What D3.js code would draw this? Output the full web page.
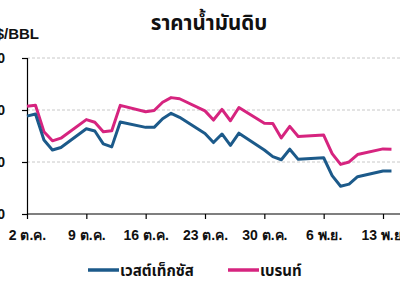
<!DOCTYPE html>
<html><head><meta charset="utf-8">
<script src="https://cdn.jsdelivr.net/npm/d3@7"></script>
<style>
html,body{margin:0;padding:0;background:#fff;}
svg{display:block;font-family:"Noto Sans Thai","Noto Sans","DejaVu Sans",sans-serif;}
</style></head>
<body><svg id="c" width="400" height="288"></svg>
<script>
const dates = ["2023-10-02","2023-10-03","2023-10-04","2023-10-05","2023-10-06",
"2023-10-09","2023-10-10","2023-10-11","2023-10-12","2023-10-13",
"2023-10-16","2023-10-17","2023-10-18","2023-10-19","2023-10-20",
"2023-10-23","2023-10-24","2023-10-25","2023-10-26","2023-10-27",
"2023-10-30","2023-10-31","2023-11-01","2023-11-02","2023-11-03",
"2023-11-06","2023-11-07","2023-11-08","2023-11-09","2023-11-10",
"2023-11-13","2023-11-14"];
const wti = [88.82,89.23,84.22,82.31,82.79,
86.38,85.97,83.49,82.91,87.69,
86.66,86.66,88.32,89.37,88.6,
85.49,83.74,85.39,83.21,85.54,
82.31,81.02,80.44,82.46,80.51,
80.82,77.37,75.33,75.74,77.17,
78.26,78.26];
const brent = [90.71,90.92,85.81,84.07,84.58,
88.15,87.65,85.82,86.00,90.89,
89.65,89.90,91.50,92.38,92.16,
89.83,88.07,90.13,87.93,90.48,
87.45,87.41,84.63,86.85,84.89,
85.18,81.61,79.54,80.01,81.43,
82.52,82.47];
const yTicks = [70,80,90,100];
const xTickDates = ["2023-10-02","2023-10-09","2023-10-16","2023-10-23","2023-10-30","2023-11-06","2023-11-13"];
const xTickLabels = ["2 ต.ค.","9 ต.ค.","16 ต.ค.","23 ต.ค.","30 ต.ค.","6 พ.ย.","13 พ.ย."];
const seriesNames = ["เวสต์เท็กซัส","เบรนท์"];
const title = "ราคาน้ำมันดิบ";
const unit = "US$/BBL";

const svg = d3.select("#c");
const parse = d3.timeParse("%Y-%m-%d");
const x = d3.scaleTime().domain([parse("2023-10-02"), parse("2023-11-13")]).range([27, 383]);
const y = d3.scaleLinear().domain([70,100]).range([214,58]);

// gridlines
svg.append("g").selectAll("line").data(yTicks.filter(d=>d>70)).join("line")
  .attr("x1",27).attr("x2",400).attr("y1",d=>y(d)).attr("y2",d=>y(d))
  .attr("stroke","#c8c8c8").attr("stroke-width",1).attr("stroke-dasharray","3,2");

// y axis
const ya = svg.append("g").attr("transform","translate(27,0)")
  .call(d3.axisLeft(y).tickValues(yTicks).tickSize(5).tickPadding(17));
ya.select(".domain").attr("stroke","#000").attr("stroke-width",1.2);
ya.selectAll(".tick line").attr("stroke","#000").attr("stroke-width",1.2);
ya.selectAll("text").attr("font-size",14).attr("font-weight","bold").attr("fill","#111")
  .attr("font-family","Arial, 'Liberation Sans', sans-serif");

// x axis
const xa = svg.append("g").attr("transform","translate(0,214)")
  .call(d3.axisBottom(x).tickValues(xTickDates.map(parse)).tickSize(5).tickSizeOuter(0)
    .tickFormat((d,i)=>xTickLabels[i]).tickPadding(21));
xa.select(".domain").attr("d","M27,0H400").attr("stroke","#000").attr("stroke-width",1.2);
xa.selectAll(".tick line").attr("stroke","#000").attr("stroke-width",1.2);
xa.selectAll("text").attr("font-size",14).attr("font-weight","bold").attr("fill","#111").attr("dy",0);

const line = d3.line().x((d,i)=>x(parse(dates[i]))).y(d=>y(d));
svg.append("path").datum(brent).attr("d",line).attr("fill","none")
  .attr("stroke","#d6247f").attr("stroke-width",3).attr("stroke-linejoin","round");
svg.append("path").datum(wti).attr("d",line).attr("fill","none")
  .attr("stroke","#1c5a8a").attr("stroke-width",3).attr("stroke-linejoin","round");

// title
svg.append("text").attr("x",209).attr("y",30).attr("text-anchor","middle")
  .attr("font-size",20.5).attr("font-weight","bold").attr("fill","#111").text(title);
svg.append("text").attr("x",39).attr("y",39).attr("text-anchor","end")
  .attr("font-size",15).attr("font-weight","bold").attr("fill","#111")
  .attr("font-family","Arial, 'Liberation Sans', sans-serif").text(unit);

// legend
const leg = [{n:seriesNames[0],c:"#1c5a8a",x:88},{n:seriesNames[1],c:"#d6247f",x:228}];
const lg = svg.append("g").selectAll("g").data(leg).join("g");
lg.append("line").attr("x1",d=>d.x).attr("x2",d=>d.x+31).attr("y1",270).attr("y2",270)
  .attr("stroke",d=>d.c).attr("stroke-width",3.5);
lg.append("text").attr("x",d=>d.x+32).attr("y",276).attr("font-size",15).attr("font-weight","bold")
  .attr("fill","#111").text(d=>d.n);
</script></body></html>
